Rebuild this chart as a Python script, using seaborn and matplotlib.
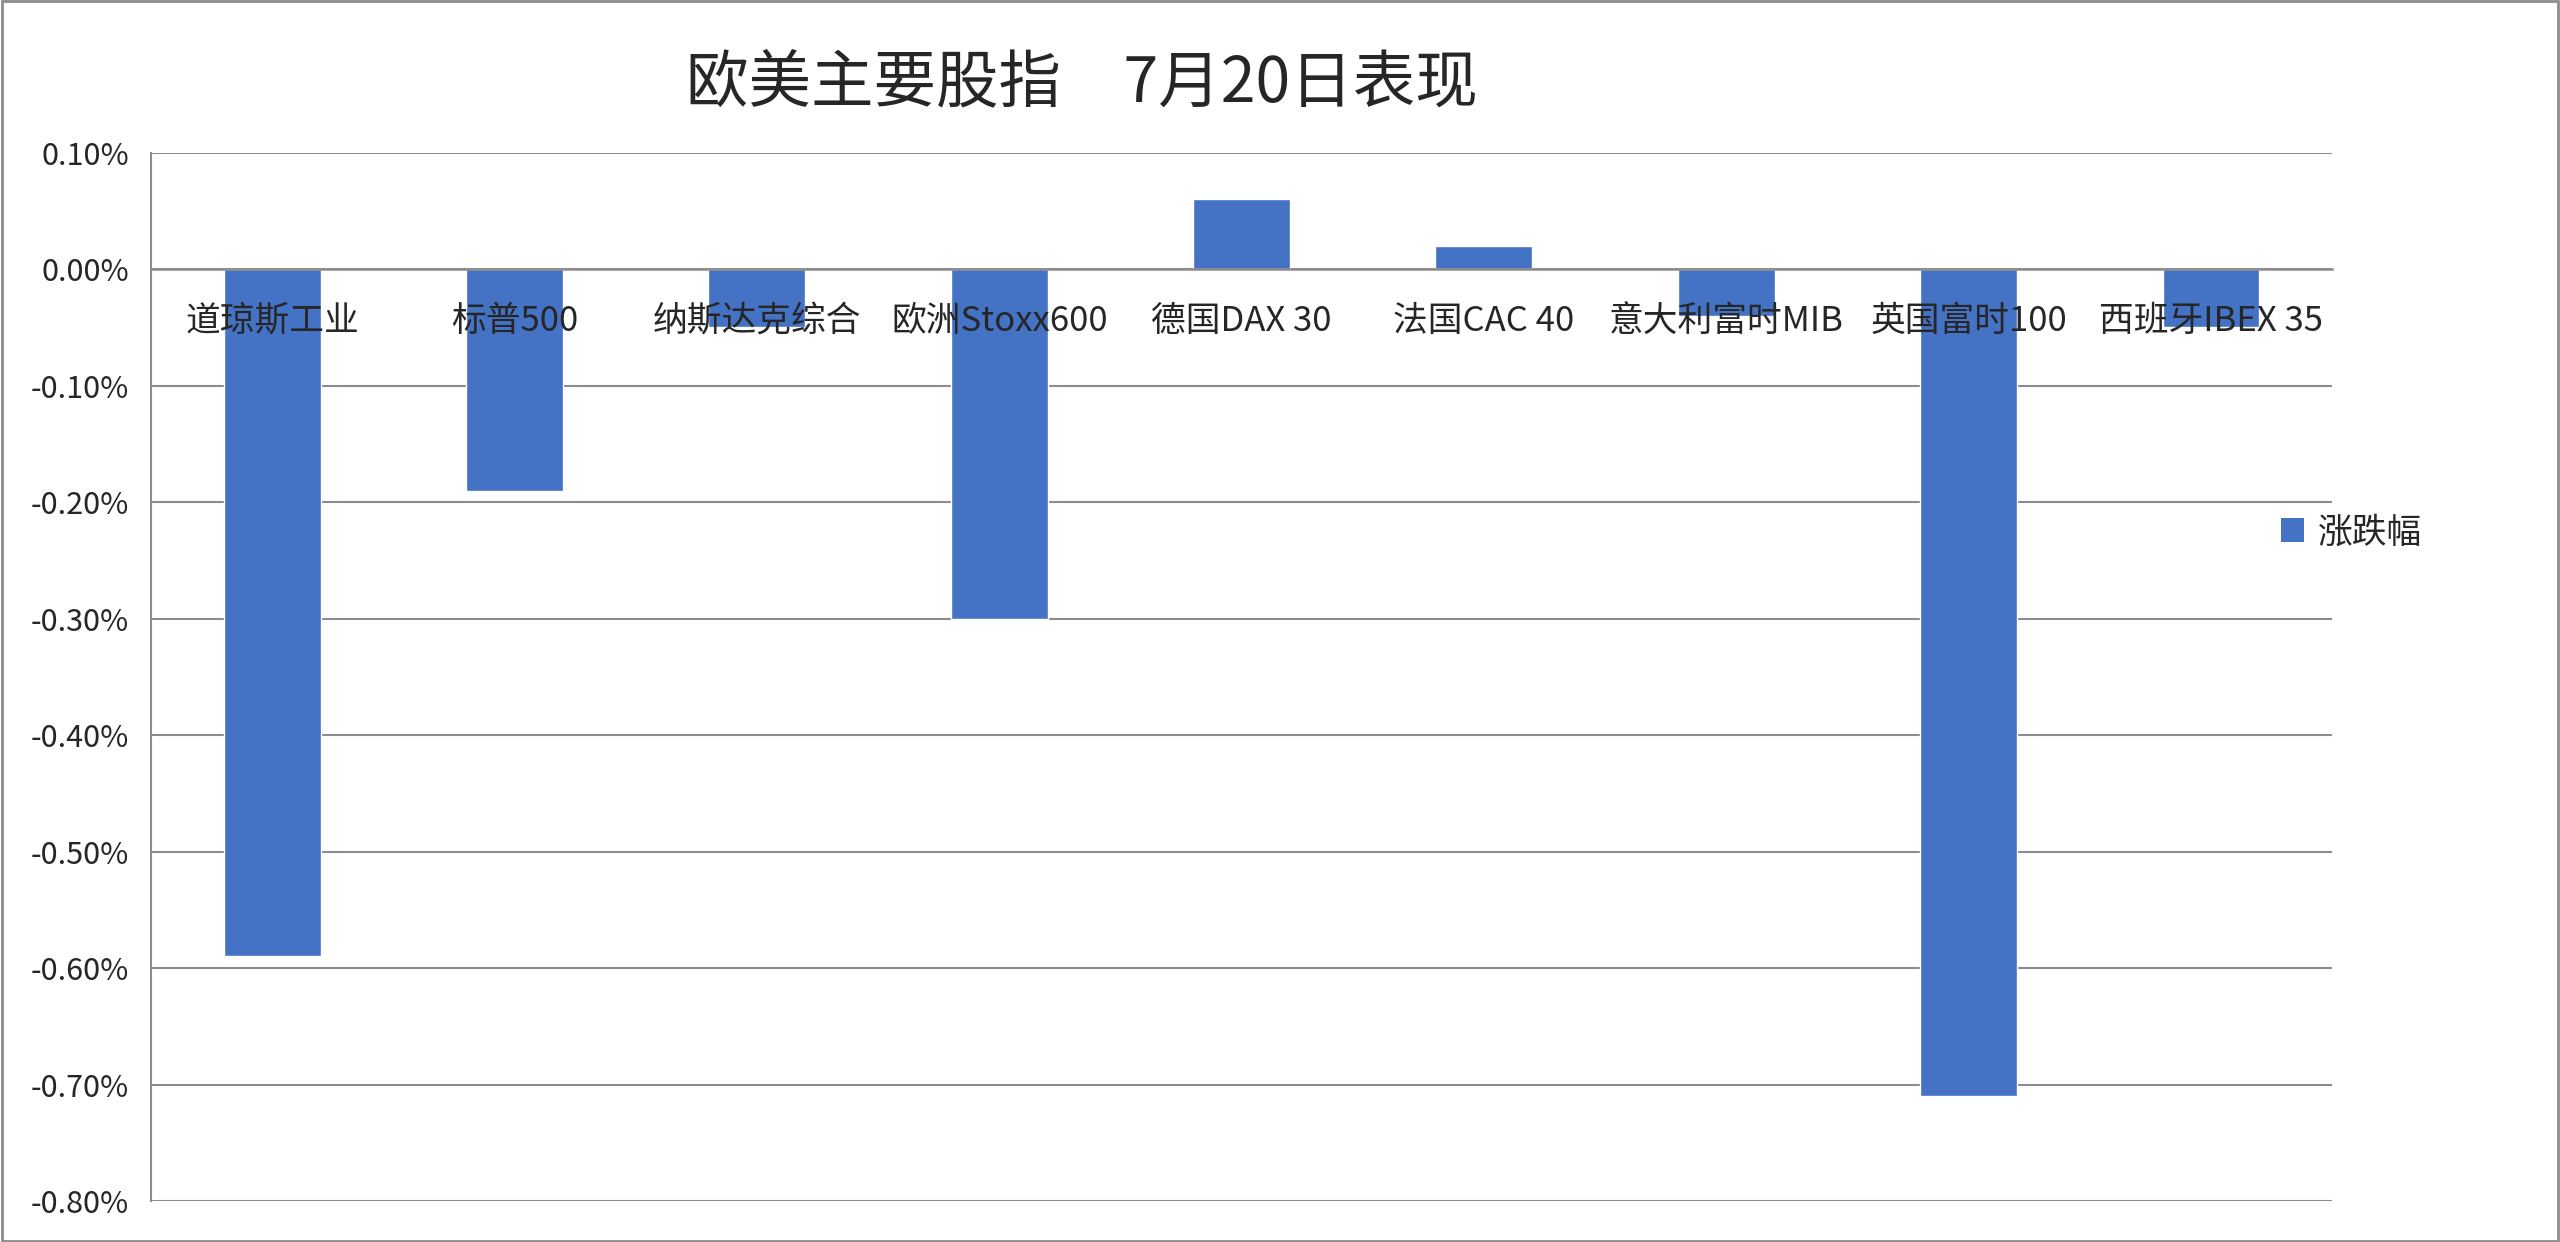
import matplotlib
matplotlib.use("Agg")
import matplotlib.pyplot as plt
from matplotlib.patches import Rectangle, Patch
from matplotlib.ticker import FuncFormatter, FixedLocator
import pandas as pd
import seaborn as sns

# data (percent change)
indices = ["道琼斯工业", "标普500", "纳斯达克综合", "欧洲Stoxx600", "德国DAX 30",
           "法国CAC 40", "意大利富时MIB", "英国富时100", "西班牙IBEX 35"]
changes = [-0.59, -0.19, -0.05, -0.30, 0.06, 0.02, -0.04, -0.71, -0.05]
series_name = "涨跌幅"
title = "欧美主要股指　7月20日表现"

bar_color = "#4472C4"
line_gray = "#8c8c8c"

sns.set_style("white")
plt.rcParams["font.family"] = ["Noto Sans CJK SC", "DejaVu Sans"]
plt.rcParams["axes.unicode_minus"] = False

df = pd.DataFrame({"指数": indices, "涨跌幅": changes, "系列": series_name})

fig = plt.figure(figsize=(25.6, 12.42), dpi=100)
ax = fig.add_axes([0.059, 0.033, 0.852, 0.844])

sns.barplot(data=df, x="指数", y="涨跌幅", hue="系列", palette=[bar_color],
            width=0.4, dodge=False, ax=ax, legend=False, saturation=1)

ax.set_xlim(-0.5, len(indices) - 0.5)
ax.set_ylim(-0.8, 0.1)
ax.set_yticks([i / 10 for i in range(-8, 2)])
ax.yaxis.set_major_formatter(FuncFormatter(lambda v, p: f"{v:.2f}%"))
ax.set_xlabel("")
ax.set_ylabel("")

# grid behind the bars, category labels in front of them
ax.set_axisbelow(True)
ax.yaxis.grid(True, color=line_gray, linewidth=1.5)
ax.xaxis.grid(False)
ax.xaxis.set_zorder(3)

for s in ["top", "right"]:
    ax.spines[s].set_visible(False)
ax.spines["left"].set_color(line_gray)
ax.spines["left"].set_linewidth(1.5)
ax.spines["bottom"].set_color(line_gray)
ax.spines["bottom"].set_linewidth(1.8)
ax.spines["bottom"].set_position(("data", 0))

ax.tick_params(axis="y", length=10, width=1.5, color=line_gray, labelsize=22, pad=6)
ax.tick_params(axis="x", which="major", length=0, labelsize=25, pad=25)
ax.xaxis.set_minor_locator(FixedLocator([i - 0.5 for i in range(len(indices) + 1)]))
ax.tick_params(axis="x", which="minor", length=10, width=1.5, color=line_gray,
               direction="out")

fig.text(0.4226, 0.933, title, ha="center", va="center", fontsize=45)

handle = Patch(facecolor=bar_color, edgecolor="none")
fig.legend([handle], [series_name], loc="center left", bbox_to_anchor=(0.891, 0.571),
           frameon=False, fontsize=25, handlelength=0.66, handleheight=0.66,
           handletextpad=0.4, borderpad=0, borderaxespad=0)

fig.patches.append(Rectangle((0.0008, 0.0012), 0.9984, 0.9976, transform=fig.transFigure,
                             fill=False, edgecolor=line_gray, linewidth=2))

fig.savefig("out.png", dpi=100, facecolor="white")
